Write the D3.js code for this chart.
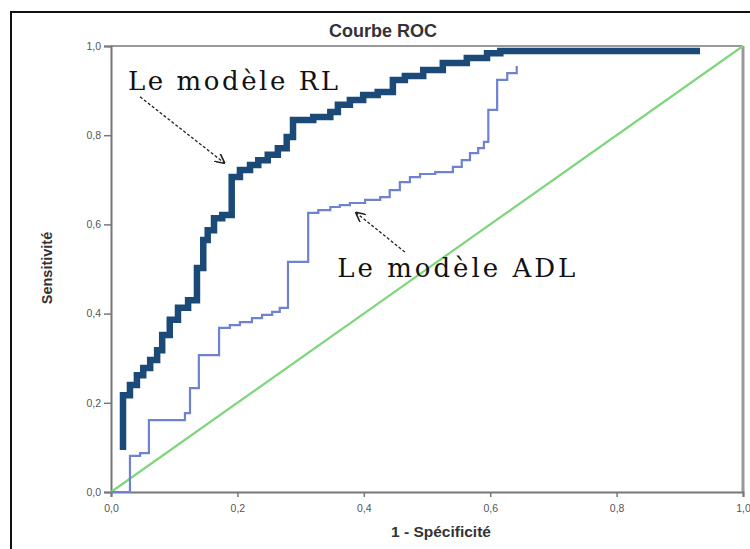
<!DOCTYPE html>
<html>
<head>
<meta charset="utf-8">
<script src="https://cdn.jsdelivr.net/npm/d3@7"></script>
<style>
    body { margin: 0; background: #fff; }
    .tick text { font-family: "Liberation Sans", Arial, sans-serif; font-size: 10.5px; fill: #555; }
</style>
</head>
<body>
<div id="chart"></div>
<script>
(function(d3) {
    'use strict';

    // Le modèle RL (regression logistique)
    var rlFpr = [0.019, 0.019, 0.030, 0.041, 0.051, 0.062, 0.073, 0.081, 0.093, 0.106, 0.122, 0.136, 0.146, 0.153, 0.163, 0.176, 0.191, 0.204, 0.220, 0.233, 0.248, 0.264, 0.278, 0.288, 0.320, 0.347, 0.359, 0.378, 0.399, 0.422, 0.446, 0.465, 0.494, 0.525, 0.563, 0.595, 0.616, 0.932];
    var rlTpr = [0.094, 0.217, 0.240, 0.262, 0.278, 0.296, 0.318, 0.352, 0.386, 0.413, 0.430, 0.502, 0.565, 0.587, 0.614, 0.621, 0.706, 0.722, 0.733, 0.744, 0.756, 0.771, 0.796, 0.834, 0.841, 0.852, 0.868, 0.879, 0.890, 0.897, 0.924, 0.933, 0.946, 0.962, 0.973, 0.984, 0.989, 0.989];

    // Le modèle ADL
    var adlFpr = [0, 0.030, 0.046, 0.060, 0.117, 0.125, 0.139, 0.171, 0.188, 0.204, 0.223, 0.239, 0.255, 0.267, 0.280, 0.312, 0.328, 0.347, 0.362, 0.378, 0.402, 0.426, 0.441, 0.457, 0.473, 0.489, 0.513, 0.541, 0.555, 0.568, 0.581, 0.590, 0.597, 0.611, 0.627, 0.642];
    var adlTpr = [0, 0.081, 0.087, 0.161, 0.177, 0.233, 0.307, 0.368, 0.374, 0.381, 0.390, 0.397, 0.404, 0.413, 0.516, 0.626, 0.632, 0.639, 0.643, 0.648, 0.655, 0.661, 0.677, 0.695, 0.706, 0.713, 0.717, 0.729, 0.744, 0.760, 0.771, 0.785, 0.857, 0.924, 0.939, 0.955];

    var refLine = [0, 1];
    var xTicks = [0, 0.2, 0.4, 0.6, 0.8, 1.0];
    var yTicks = [0, 0.2, 0.4, 0.6, 0.8, 1.0];

    var width = 750,
        height = 549;

    var margin = {top: 46, right: 7, bottom: 57, left: 111};
    var innerW = width - margin.left - margin.right,
        innerH = height - margin.top - margin.bottom;

    var fmt = function(d) { return d3.format('.1f')(d).replace('.', ','); };

    var svg = d3.select('#chart').append('svg')
        .attr('width', width)
        .attr('height', height);

    // outer frame of the figure
    svg.append('rect')
        .attr('x', 11)
        .attr('y', 12)
        .attr('width', 780)
        .attr('height', 600)
        .attr('fill', 'none')
        .attr('stroke', '#111')
        .attr('stroke-width', 2);

    var defs = svg.append('defs');
    defs.append('marker')
        .attr('id', 'arrow')
        .attr('viewBox', '0 0 10 10')
        .attr('refX', 9)
        .attr('refY', 5)
        .attr('markerWidth', 10)
        .attr('markerHeight', 10)
        .attr('markerUnits', 'userSpaceOnUse')
        .attr('orient', 'auto')
        .append('path')
        .attr('d', 'M0,0 L10,5 L0,10')
        .attr('fill', 'none')
        .attr('stroke', '#222')
        .attr('stroke-width', 1.6);

    var g = svg.append('g')
        .attr('transform', 'translate(' + margin.left + ',' + margin.top + ')');

    var x = d3.scaleLinear().domain([0, 1]).range([0, innerW]);
    var y = d3.scaleLinear().domain([0, 1]).range([innerH, 0]);

    // top and right frame lines
    g.append('line')
        .attr('x1', 0).attr('x2', innerW)
        .attr('y1', 0).attr('y2', 0)
        .attr('stroke', '#999').attr('stroke-width', 2);
    g.append('line')
        .attr('x1', innerW).attr('x2', innerW)
        .attr('y1', 0).attr('y2', innerH)
        .attr('stroke', '#999').attr('stroke-width', 3);

    var xAxis = g.append('g')
        .attr('transform', 'translate(0,' + innerH + ')')
        .call(d3.axisBottom(x).tickValues(xTicks).tickFormat(fmt).tickSize(5).tickPadding(8));
    var yAxis = g.append('g')
        .call(d3.axisLeft(y).tickValues(yTicks).tickFormat(fmt).tickSize(7).tickPadding(3));

    [xAxis, yAxis].forEach(function(a) {
        a.select('.domain').attr('stroke', '#777').attr('stroke-width', 2);
        a.selectAll('.tick line').attr('stroke', '#777').attr('stroke-width', 1.5);
    });

    // diagonal reference
    g.append('line')
        .attr('x1', x(refLine[0])).attr('y1', y(refLine[0]))
        .attr('x2', x(refLine[1])).attr('y2', y(refLine[1]))
        .attr('stroke', '#7ed67e')
        .attr('stroke-width', 2.2);

    var step = d3.line()
        .x(function(d) { return x(d[0]); })
        .y(function(d) { return y(d[1]); })
        .curve(d3.curveStepAfter);

    g.append('path')
        .datum(d3.zip(adlFpr, adlTpr))
        .attr('d', step)
        .attr('fill', 'none')
        .attr('stroke', '#6f82d2')
        .attr('stroke-width', 2.2);

    g.append('path')
        .datum(d3.zip(rlFpr, rlTpr))
        .attr('d', step)
        .attr('fill', 'none')
        .attr('stroke', '#1b4a78')
        .attr('stroke-width', 6.5);

    // annotations
    function note(label, tx, ty, len, ax1, ay1, ax2, ay2) {
        g.append('text')
            .attr('x', x(tx))
            .attr('y', y(ty))
            .attr('textLength', len)
            .attr('lengthAdjust', 'spacing')
            .style('font-family', '"DejaVu Serif", "Liberation Serif", serif')
            .style('font-size', '26px')
            .style('fill', '#111')
            .text(label);
        g.append('line')
            .attr('x1', x(ax1)).attr('y1', y(ay1))
            .attr('x2', x(ax2)).attr('y2', y(ay2))
            .attr('stroke', '#222')
            .attr('stroke-width', 1.3)
            .attr('stroke-dasharray', '3,2')
            .attr('marker-end', 'url(#arrow)');
    }
    note('Le modèle RL', 0.027, 0.901, 210, 0.046, 0.886, 0.179, 0.738);
    note('Le modèle ADL', 0.358, 0.482, 238, 0.465, 0.538, 0.388, 0.626);

    // titles
    svg.append('text')
        .attr('x', 383)
        .attr('y', 37)
        .attr('text-anchor', 'middle')
        .style('font-family', '"Liberation Sans", Arial, sans-serif')
        .style('font-weight', 'bold')
        .style('font-size', '18px')
        .style('fill', '#333')
        .text('Courbe ROC');

    svg.append('text')
        .attr('x', 441)
        .attr('y', 537)
        .attr('text-anchor', 'middle')
        .style('font-family', '"Liberation Sans", Arial, sans-serif')
        .style('font-weight', 'bold')
        .style('font-size', '15.5px')
        .style('fill', '#333')
        .text('1 - Spécificité');

    svg.append('text')
        .attr('transform', 'translate(52,268) rotate(-90)')
        .attr('text-anchor', 'middle')
        .style('font-family', '"Liberation Sans", Arial, sans-serif')
        .style('font-weight', 'bold')
        .style('font-size', '14.5px')
        .style('fill', '#333')
        .text('Sensitivité');

})(window.d3);
</script>
</body>
</html>
